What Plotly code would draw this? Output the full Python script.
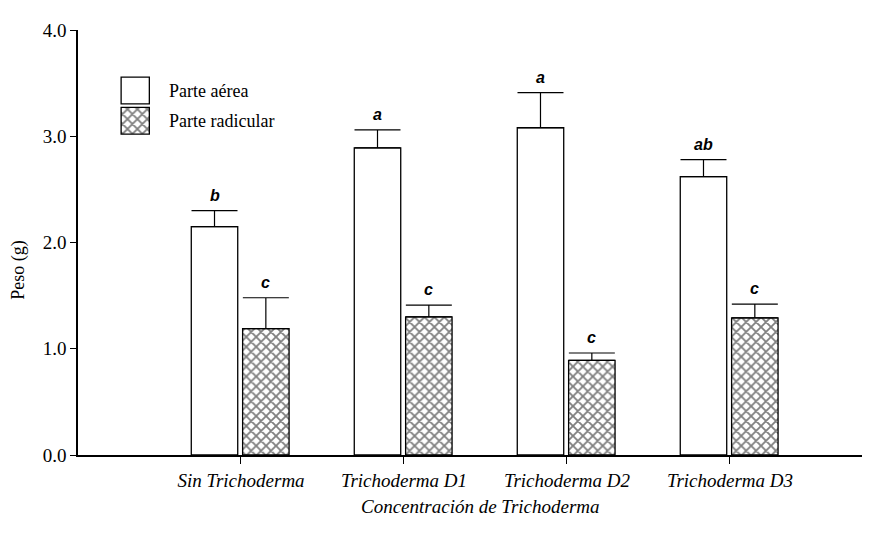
import plotly.graph_objects as go

categories = ["Sin Trichoderma", "Trichoderma D1", "Trichoderma D2", "Trichoderma D3"]
aerea = [2.15, 2.89, 3.08, 2.62]
aerea_err = [0.15, 0.17, 0.33, 0.16]
radicular = [1.19, 1.30, 0.89, 1.29]
radicular_err = [0.29, 0.11, 0.07, 0.13]
letters_aerea = ["b", "a", "a", "ab"]
letters_radicular = ["c", "c", "c", "c"]
series_names = ["Parte aérea", "Parte radicular"]
y_ticks = [0, 1, 2, 3, 4]

xs = list(range(len(categories)))
W = 0.285
OFF_A = -0.305
OFF_R = 0.01

hatch = dict(shape="x", fgcolor="black", bgcolor="white", size=7, solidity=0.45)
edge = dict(color="black", width=1.3)

fig = go.Figure()
fig.add_trace(go.Bar(
    x=xs, y=aerea, name=series_names[0], width=W, offset=OFF_A, showlegend=False,
    marker=dict(color="white", line=edge),
    error_y=dict(type="data", symmetric=False, array=aerea_err, arrayminus=[0]*4,
                 color="black", thickness=1.2, width=23),
))
fig.add_trace(go.Bar(
    x=xs, y=radicular, name=series_names[1], width=W, offset=OFF_R, showlegend=False,
    marker=dict(color="white", line=edge, pattern=hatch),
    error_y=dict(type="data", symmetric=False, array=radicular_err, arrayminus=[0]*4,
                 color="black", thickness=1.2, width=23),
))

# Legend keys (drawn on an auxiliary 0..1 axis inside the plot area)
fig.add_trace(go.Bar(
    x=[0.073], y=[0.063], base=[0.826], width=[0.036], xaxis="x2", yaxis="y2",
    marker=dict(color="white", line=edge), showlegend=False, hoverinfo="skip",
))
fig.add_trace(go.Bar(
    x=[0.073], y=[0.063], base=[0.755], width=[0.036], xaxis="x2", yaxis="y2",
    marker=dict(color="white", line=edge, pattern=hatch), showlegend=False, hoverinfo="skip",
))
serif = "Liberation Serif, Times New Roman, serif"
for name, yy in zip(series_names, [0.856, 0.786]):
    fig.add_annotation(x=0.114, y=yy, xref="x2", yref="y2", text=name, showarrow=False,
                       xanchor="left", yanchor="middle", font=dict(family=serif, size=18, color="black"))

fig.add_annotation(x=-0.077, y=0.435, xref="paper", yref="paper", text="Peso (g)", showarrow=False,
                   textangle=-90, xanchor="center", yanchor="middle",
                   font=dict(family=serif, size=18, color="black"))

fig.add_annotation(x=0.513, y=-0.12, xref="paper", yref="paper", text="Concentración de Trichoderma",
                   showarrow=False, xanchor="center", yanchor="middle",
                   font=dict(family=serif, size=19, color="black", style="italic"))

lf = dict(family="Liberation Sans, Arial", size=16, color="black", weight="bold", style="italic")
for i in xs:
    fig.add_annotation(x=i + OFF_A + W / 2, y=aerea[i] + aerea_err[i], text=letters_aerea[i],
                       showarrow=False, yanchor="bottom", yshift=5, font=lf)
    fig.add_annotation(x=i + OFF_R + W / 2, y=radicular[i] + radicular_err[i], text=letters_radicular[i],
                       showarrow=False, yanchor="bottom", yshift=5, font=lf)

fig.update_layout(
    width=881, height=540,
    margin=dict(l=70, r=27, t=13, b=93),
    plot_bgcolor="white", paper_bgcolor="white",
    font=dict(family=serif, color="black", size=16),
    showlegend=False,
    barmode="overlay",
    xaxis=dict(
        range=[-1.0, 3.81], tickmode="array", tickvals=xs, ticktext=categories,
        tickfont=dict(family=serif, size=19, style="italic"),
        showline=True, linecolor="black", linewidth=1.5,
        ticks="outside", ticklen=7, tickcolor="black", showgrid=False, zeroline=False,
    ),
    yaxis=dict(
        range=[0, 4], tickmode="array", tickvals=y_ticks,
        ticktext=[f"{v:.1f}" for v in y_ticks],
        tickfont=dict(family=serif, size=19),
        showline=True, linecolor="black", linewidth=1.5,
        ticks="outside", ticklen=6, tickcolor="black", showgrid=False, zeroline=False,
    ),
    xaxis2=dict(domain=[0, 1], range=[0, 1], overlaying="x", visible=False, fixedrange=True),
    yaxis2=dict(domain=[0, 1], range=[0, 1], overlaying="y", visible=False, fixedrange=True),
)
fig.write_html("out.html")
